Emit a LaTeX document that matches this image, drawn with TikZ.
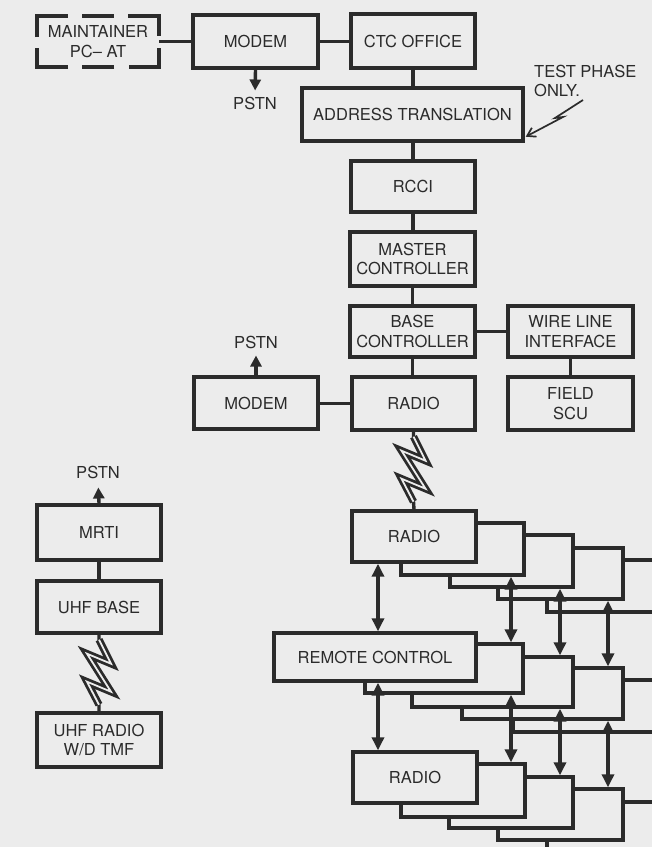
\documentclass[tikz,border=0pt]{standalone}
\usepackage{fontspec}
\setmainfont{TeX Gyre Heros}
\usetikzlibrary{arrows.meta}
\definecolor{paper}{HTML}{ECECEC}
\definecolor{ink}{HTML}{2B2B2B}
\begin{document}
\begin{tikzpicture}[x=1pt,y=-1pt,
  txt/.style={font=\fontsize{16.5}{19.5}\selectfont, text=ink},
  box/.style={txt, draw=ink, line width=3.4pt, fill=paper, rectangle, inner sep=0pt, align=center},
  lbl/.style={txt, inner sep=1pt},
  wire/.style={draw=ink, line width=3.4pt},
  uparrow/.style={wire, -{Triangle[width=11pt,length=11pt]}},
  biarrow/.style={wire, {Triangle[width=12pt,length=13pt]}-{Triangle[width=12pt,length=13pt]}},
  zig/.style={insert path={-- ++(12,24) -- ++(-24,-10) -- ++(24,38) -- ++(-24,-10) -- ++(12,23)}},
  boltdbl/.style={draw=ink, line width=2.8pt, double=paper, double distance=1.8pt, line join=miter, miter limit=4},
  dashline/.style={draw=ink, line width=4pt},
  thinarrow/.style={draw=ink, line width=1.7pt, -{Straight Barb[length=8pt,width=10pt]}}
]
\useasboundingbox (0,0) rectangle (652,847);
\clip (0,0) rectangle (652,847);
\fill[paper] (0,0) rectangle (652,847);

% top row
\node[txt, inner sep=0pt, align=center, minimum width=122, minimum height=51] (maint) at (98,41.5) {MAINTAINER\\PC– AT};
\draw[dashline] (37,37) -- (37,16) -- (68,16);
\draw[dashline] (82,16) -- (114,16);
\draw[dashline] (128,16) -- (159,16) -- (159,36);
\draw[dashline] (159,48) -- (159,67) -- (129,67);
\draw[dashline] (114,67) -- (82,67);
\draw[dashline] (68,67) -- (37,67) -- (37,48);

\node[box, minimum width=125, minimum height=53] (modemA) at (255.5,41.5) {MODEM};
\node[box, minimum width=124, minimum height=54] (ctc) at (413,41) {CTC OFFICE};
\node[box, minimum width=221, minimum height=53] (addr) at (412.5,114.5) {ADDRESS TRANSLATION};
\node[box, minimum width=124, minimum height=51] (rcci) at (413,186.5) {RCCI};
\node[box, minimum width=125, minimum height=54] (master) at (412.5,259) {MASTER\\CONTROLLER};
\node[box, minimum width=125, minimum height=51] (basec) at (412.5,331.5) {BASE\\CONTROLLER};
\node[box, minimum width=125, minimum height=51] (wirel) at (570.5,331.5) {WIRE LINE\\INTERFACE};
\node[box, minimum width=125, minimum height=53] (field) at (570.5,403.5) {FIELD\\SCU};
\node[box, minimum width=123, minimum height=53] (radio0) at (413.5,403.5) {RADIO};
\node[box, minimum width=124, minimum height=52] (modemB) at (256,403) {MODEM};

\node[lbl] (pstnA) at (255,103) {PSTN};
\node[lbl] (pstnB) at (256,342) {PSTN};
\node[lbl] (pstnC) at (98,472) {PSTN};
\node[lbl, align=left, anchor=west, font=\fontsize{16.5}{19}\selectfont] (tp) at (533,80.5) {TEST PHASE\\ONLY.};

% left column
\node[box, minimum width=124, minimum height=55] (mrti) at (99,532.5) {MRTI};
\node[box, minimum width=124, minimum height=52] (uhfb) at (99,607) {UHF BASE};
\node[box, minimum width=124, minimum height=54] (uhfr) at (99,740) {UHF RADIO\\W/D TMF};

% radio stack A (back to front)
\node[box, minimum width=124, minimum height=52] (raE) at (609,586) {};
\node[box, minimum width=125, minimum height=51] (raD) at (560.5,573.5) {};
\node[box, minimum width=123, minimum height=52] (raC) at (511.5,561) {};
\node[box, minimum width=123, minimum height=52] (raB) at (462.5,549) {};
\node[box, minimum width=124, minimum height=51] (raA) at (414,536.5) {RADIO};

% remote control stack
\node[box, minimum width=161, minimum height=52] (rcE) at (593.5,706) {};
\node[box, minimum width=161, minimum height=51] (rcD) at (542.5,693.5) {};
\node[box, minimum width=161, minimum height=50] (rcC) at (492.5,682) {};
\node[box, minimum width=158, minimum height=49] (rcB) at (444,668.5) {};
\node[box, minimum width=202, minimum height=48] (rcA) at (375,657) {REMOTE CONTROL};

% radio stack C
\node[box, minimum width=124, minimum height=51] (rdE) at (609,827.5) {};
\node[box, minimum width=125, minimum height=51] (rdD) at (560.5,814.5) {};
\node[box, minimum width=124, minimum height=51] (rdC) at (511,802.5) {};
\node[box, minimum width=124, minimum height=53] (rdB) at (463,790.5) {};
\node[box, minimum width=124, minimum height=51] (rdA) at (415,777.5) {RADIO};

% connectors
\draw[wire] (maint.east) -- (modemA.west);
\draw[wire] (modemA.east) -- (modemA.east -| ctc.west);
\draw[wire] (ctc.south) -- (ctc.south |- addr.north);
\draw[wire] (rcci.north) -- (rcci.north |- addr.south);
\draw[wire] (rcci.south) -- (rcci.south |- master.north);
\draw[wire] (master.south) -- (master.south |- basec.north);
\draw[wire] (basec.south) -- (basec.south |- radio0.north);
\draw[wire] (basec.east) -- (wirel.west);
\draw[wire] (wirel.south) -- (field.north);
\draw[wire] (radio0.west) -- (radio0.west -| modemB.east);
\draw[wire] (mrti.south) -- (uhfb.north);

\draw[uparrow, shorten >=5pt] (modemA.south) -- (pstnA.north);
\draw[uparrow, shorten >=6pt] (modemB.north) -- (pstnB.south);
\draw[uparrow, shorten >=8pt] (mrti.north) -- (pstnC.south);

% test phase lightning arrow
\coordinate (tpa) at (583,100);
\draw[thinarrow] (tpa) -- ++(-28,18) -- ++(8,-1) -- ([shift={(1pt,6pt)}]addr.south east);

% lightning bolts
\draw[wire] (uhfb.south) -- ++(0,5) [zig] -- (uhfr.north);
\draw[boltdbl] (uhfb.south) ++(0,5) [zig];
\draw[wire] (radio0.south) -- ++(0,5) [zig] -- (raA.north);
\draw[boltdbl] (radio0.south) ++(0,5) [zig];

% bidirectional arrows
\coordinate (xA) at (378,0);
\coordinate (xB) at (511,0);
\coordinate (xC) at (560,0);
\coordinate (xD) at (608,0);
\draw[biarrow] (raA.south -| xA) -- (rcA.north -| xA);
\draw[biarrow] (rcA.south -| xA) -- (rdA.north -| xA);
\draw[biarrow] (raB.south -| xB) -- (rcB.north -| xB);
\draw[biarrow] (rcB.south -| xB) -- (rdB.north -| xB);
\draw[biarrow] (raC.south -| xC) -- (rcC.north -| xC);
\draw[biarrow] (rcC.south -| xC) -- (rdC.north -| xC);
\draw[biarrow] (raD.south -| xD) -- (rcD.north -| xD);
\draw[biarrow] (rcD.south -| xD) -- (rdD.north -| xD);
\end{tikzpicture}
\end{document}
